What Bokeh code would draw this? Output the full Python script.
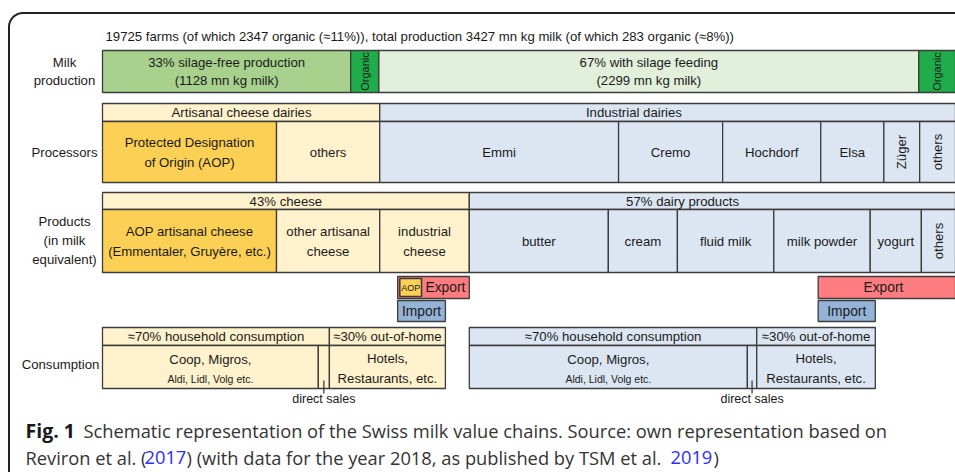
import math
from bokeh.plotting import figure
from bokeh.models import Range1d
from bokeh.core.properties import value
from bokeh.embed import file_html
from bokeh.resources import INLINE

# ---------------- data (shares in % of the full row width) ----------------
title_text = ("19725 farms (of which 2347 organic (\u224811%)), total production "
              "3427 mn kg milk (of which 283 organic (\u22488%))")

milk_labels = ["33% silage-free production\n(1128 mn kg milk)", "Organic",
               "67% with silage feeding\n(2299 mn kg milk)", "Organic"]
milk_shares = [29.1, 3.3, 63.3, 4.3]

proc_group_labels = ["Artisanal cheese dairies", "Industrial dairies"]
proc_group_shares = [32.5, 67.5]
proc_group_label_at = [16.3, 62.3]
proc_labels = ["Protected Designation\nof Origin (AOP)", "others", "Emmi", "Cremo",
               "Hochdorf", "Elsa", "Z\u00fcger", "others"]
proc_shares = [20.4, 12.1, 28.0, 12.2, 11.5, 7.4, 4.2, 4.2]

prod_group_labels = ["43% cheese", "57% dairy products"]
prod_group_shares = [43.0, 57.0]
prod_group_label_at = [21.5, 68.0]
prod_labels = ["AOP artisanal cheese\n(Emmentaler, Gruy\u00e8re, etc.)", "other artisanal\ncheese",
               "industrial\ncheese", "butter", "cream", "fluid milk", "milk powder", "yogurt", "others"]
prod_shares = [20.4, 12.1, 10.5, 16.3, 8.1, 11.3, 11.3, 6.0, 4.0]

trade_labels = ["Export", "Import", "Export", "Import"]
trade_start = [34.6, 34.6, 83.9, 83.9]
trade_end = [43.0, 40.2, 100.0, 90.6]

cons_start = [0.0, 43.0]
cons_end = [40.2, 90.6]
cons_household_end = [26.6, 76.7]
cons_retail_end = [25.3, 75.6]
cons_head_labels = ["\u224870% household consumption", "\u224830% out-of-home"]
cons_labels_retail = ["Coop, Migros,", "Aldi, Lidl, Volg etc."]
cons_labels_ooh = ["Hotels,", "Restaurants, etc."]

row_labels = ["Milk\nproduction", "Processors", "Products\n(in milk\nequivalent)", "Consumption"]

caption_bold = "Fig. 1"
caption_line1 = "Schematic representation of the Swiss milk value chains. Source: own representation based on"
caption_line2 = ["Reviron et al. (", "2017", ") (with data for the year 2018, as published by TSM et al.", "2019", ")"]

# ---------------- styles ----------------
GREEN = "#a9d18e"
ORGANIC = "#1fad4b"
LGREEN = "#e2efda"
AOP = "#fbd055"
LYELLOW = "#fff2cc"
LBLUE = "#dce6f2"
EXPORT = "#ff7c80"
IMPORT = "#95b3d7"
EDGE = "#3c3c3c"
FONT = "Liberation Sans"
FS = "13.2px"

milk_colors = [GREEN, ORGANIC, LGREEN, ORGANIC]
proc_colors = [AOP, LYELLOW] + [LBLUE] * 6
proc_group_colors = [LYELLOW, LBLUE]
prod_colors = [AOP, LYELLOW, LYELLOW] + [LBLUE] * 6
prod_group_colors = [LYELLOW, LBLUE]
trade_colors = [EXPORT, IMPORT, EXPORT, IMPORT]
cons_colors = [LYELLOW, LBLUE]

# layout (screen pixel rows, y grows downward)
PXU = 8.53          # pixels per share unit
X0 = 102            # pixel position of share 0
def px(xp):
    return (xp - X0) / PXU

Y = dict(title=36, milk=(50, 92), proc_head=(103, 121), proc=(121, 182),
         prod_head=(192, 209), prod=(209, 272), export=(276, 298), imp=(300, 321),
         cons_head=(327, 345), cons=(345, 388))

W, H = 955, 472
p = figure(width=W, height=H, output_backend="svg", toolbar_location=None,
           x_range=Range1d(px(0), px(W)), y_range=Range1d(H, 0),
           min_border=0, outline_line_color=None)
p.axis.visible = False
p.grid.visible = False
p.background_fill_color = "white"
p.border_fill_color = "white"


def cum(shares, start=0.0):
    lefts, rights = [], []
    c = start
    for s in shares:
        lefts.append(c)
        c += s
        rights.append(c)
    return lefts, rights


def boxes(lefts, rights, top, bottom, colors, lw=1.3):
    p.quad(left=lefts, right=rights, top=[top] * len(lefts), bottom=[bottom] * len(lefts),
           fill_color=colors, line_color=EDGE, line_width=lw)


def label(x, y, txt, size=FS, angle=0.0, align="center", font=FONT, color="#1a1a1a",
          style="normal", lh=18.5):
    lines = txt.split("\n")
    n = len(lines)
    for i, ln in enumerate(lines):
        yy = y + (i - (n - 1) / 2) * lh
        p.text(x=[x], y=[yy], text=[ln], angle=angle, text_align=align,
               text_baseline="middle", text_font=value(font), text_font_size=size,
               text_color=color, text_font_style=style)


def mids(l, r):
    return [(a + b) / 2 for a, b in zip(l, r)]

# ---------------- frame ----------------
r = 14
fx, fy = [], []
fx.append(px(8.5)); fy.append(H)
for k in range(0, 21):
    t = math.pi - k * (math.pi / 2) / 20
    fx.append(px(8.5 + r + r * math.cos(t))); fy.append(12.5 + r - r * math.sin(t))
fx.append(px(W + 1)); fy.append(12.5)
p.line(fx, fy, line_color="#222222", line_width=2)

# ---------------- title ----------------
label(px(105), Y["title"], title_text, align="left")

# ---------------- row labels ----------------
label(px(64), 71, row_labels[0])
label(px(64), 152, row_labels[1])
label(px(64), 240, row_labels[2], lh=19)
label(px(60), 364, row_labels[3])

# ---------------- milk production ----------------
ml, mr = cum(milk_shares)
boxes(ml, mr, Y["milk"][0], Y["milk"][1], milk_colors)
ymid = sum(Y["milk"]) / 2
for xm, t in zip(mids(ml, mr), milk_labels):
    if t == "Organic":
        label(xm, ymid, t, size="11px", angle=math.pi / 2)
    else:
        label(xm, ymid, t)

# ---------------- processors ----------------
gl, gr = cum(proc_group_shares)
boxes(gl, gr, Y["proc_head"][0], Y["proc_head"][1], proc_group_colors)
for xm, t in zip(proc_group_label_at, proc_group_labels):
    label(xm, sum(Y["proc_head"]) / 2, t)
pl, pr = cum(proc_shares)
boxes(pl, pr, Y["proc"][0], Y["proc"][1], proc_colors)
ymid = sum(Y["proc"]) / 2
for xm, t, w in zip(mids(pl, pr), proc_labels, proc_shares):
    if w < 5:
        label(xm, ymid, t, angle=math.pi / 2)
    else:
        label(xm, ymid, t, lh=20)

# ---------------- products ----------------
gl, gr = cum(prod_group_shares)
boxes(gl, gr, Y["prod_head"][0], Y["prod_head"][1], prod_group_colors)
for xm, t in zip(prod_group_label_at, prod_group_labels):
    label(xm, sum(Y["prod_head"]) / 2, t)
pl, pr = cum(prod_shares)
boxes(pl, pr, Y["prod"][0], Y["prod"][1], prod_colors)
ymid = sum(Y["prod"]) / 2
for xm, t, w in zip(mids(pl, pr), prod_labels, prod_shares):
    if w < 5:
        label(xm, ymid, t, angle=math.pi / 2)
    else:
        label(xm, ymid, t, lh=20)

# ---------------- trade ----------------
for i in range(4):
    row = Y["export"] if trade_labels[i] == "Export" else Y["imp"]
    boxes([trade_start[i]], [trade_end[i]], row[0], row[1], [trade_colors[i]])
# AOP tag inside left export box
aop_l, aop_r = trade_start[0] + 0.25, trade_start[0] + 2.8
boxes([aop_l], [aop_r], Y["export"][0] + 2, Y["export"][1] - 2, [AOP], lw=1.6)
label((aop_l + aop_r) / 2, sum(Y["export"]) / 2, "AOP", size="9px")
label((aop_r + trade_end[0]) / 2, sum(Y["export"]) / 2, "Export", size="13.8px")
label((trade_start[2] + trade_end[2]) / 2 - 0.4, sum(Y["export"]) / 2, "Export", size="13.8px")
for i in (1, 3):
    label((trade_start[i] + trade_end[i]) / 2, sum(Y["imp"]) / 2, "Import", size="13.8px")

# ---------------- consumption ----------------
for i in range(2):
    s, e, h, rt = cons_start[i], cons_end[i], cons_household_end[i], cons_retail_end[i]
    c = cons_colors[i]
    boxes([s, h], [h, e], Y["cons_head"][0], Y["cons_head"][1], [c, c])
    boxes([s, rt, h], [rt, h, e], Y["cons"][0], Y["cons"][1], [c, c, c])
    label((s + h) / 2, sum(Y["cons_head"]) / 2, cons_head_labels[0])
    label((h + e) / 2, sum(Y["cons_head"]) / 2, cons_head_labels[1])
    label((s + rt) / 2, 359, cons_labels_retail[0])
    label((s + rt) / 2, 378, cons_labels_retail[1], size="10.5px")
    label((h + e) / 2, 358, cons_labels_ooh[0])
    label((h + e) / 2, 378, cons_labels_ooh[1])
    xm = (rt + h) / 2
    p.segment(x0=[xm], y0=[380], x1=[xm], y1=[393], line_color=EDGE, line_width=1.3)
    label(xm, 398, "direct sales", size="12.5px")

# ---------------- caption ----------------
CF = "Open Sans"
label(px(25), 430, caption_bold, size="19.5px", align="left", font=CF, style="bold", color="#1a1a1a")
label(px(83), 430, caption_line1, size="18.3px", align="left", font=CF, color="#333333")
seg_x = [25, 144, 186, 670, 713]
seg_c = ["#333333", "#2b2bff", "#333333", "#2b2bff", "#333333"]
for xx, t, c in zip(seg_x, caption_line2, seg_c):
    label(px(xx), 457, t, size="18.3px", align="left", font=CF, color=c)

open("out.html", "w").write(file_html(p, INLINE))
